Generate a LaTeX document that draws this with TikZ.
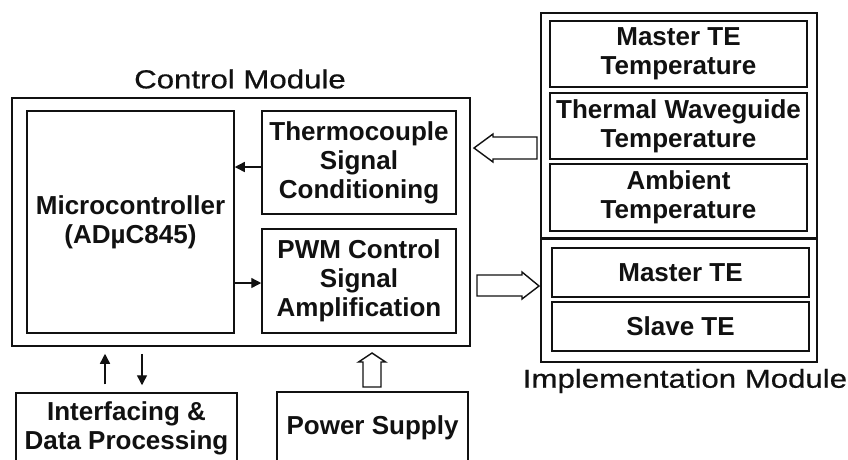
\documentclass[tikz,border=0pt]{standalone}
\usepackage{fontspec}
\setmainfont{Liberation Sans}
\newfontfamily\titlefont[FakeStretch=1.2,FakeBold=0.6]{Liberation Sans}
\usetikzlibrary{arrows.meta,calc}
\definecolor{ink}{HTML}{111111}
\tikzset{
  box/.style={draw=ink,line width=1.5pt,rectangle,inner sep=0pt,align=center,
    font=\fontsize{26}{29}\selectfont\bfseries,text=ink},
  frame/.style={draw=ink,line width=1.5pt,rectangle,inner sep=0pt},
  title/.style={font=\titlefont\fontsize{26}{30}\selectfont,text=ink,inner sep=0pt},
  sig/.style={draw=ink,line width=1.4pt,-{Triangle[length=10pt,width=10pt]}},
  hollow/.style={draw=ink,line width=1.4pt,fill=white,line join=miter},
}
\begin{document}
\begin{tikzpicture}[x=1pt,y=-1pt]
\clip (0,0) rectangle (848,459);
\fill[white] (0,0) rectangle (848,459);
% control module
\node[frame,minimum width=458pt,minimum height=248pt] (ctrl) at (241,222) {};
\node[title] (ctrlT) at (240,79) {Control Module};
\node[box,minimum width=207pt,minimum height=222pt] (mcu) at (130.5,222) {Microcontroller\\(AD\textmu C845)};
\node[box,minimum width=194pt,minimum height=103pt] (tc) at (359,162.5) {Thermocouple\\Signal\\Conditioning};
\node[box,minimum width=194pt,minimum height=104pt] (pwm) at (359,281) {PWM Control\\Signal\\Amplification};
% implementation module
\node[frame,minimum width=276pt,minimum height=225pt] (implU) at (679,125.5) {};
\node[frame,minimum width=276pt,minimum height=124pt] (implL) at (679,300) {};
\draw[ink,line width=2.6pt] (implU.south west) -- (implU.south east);
\node[title] (implT) at (685,381) {Implementation Module};
\node[box,minimum width=257pt,minimum height=66pt] (mtt) at (678.5,54) {Master TE\\Temperature};
\node[box,minimum width=257pt,minimum height=66pt] (twt) at (678.5,126) {Thermal Waveguide\\Temperature};
\node[box,minimum width=257pt,minimum height=67pt] (amb) at (678.5,197.5) {Ambient\\Temperature};
\node[box,minimum width=257pt,minimum height=49pt] (mte) at (680.5,272.5) {Master TE};
\node[box,minimum width=257pt,minimum height=49pt] (ste) at (680.5,326.5) {Slave TE};
% bottom
\node[box,minimum width=221pt,minimum height=70pt] (intf) at (126.5,428) {Interfacing \&\\Data Processing};
\node[box,minimum width=191pt,minimum height=71pt] (psu) at (372.5,427.5) {Power Supply};
% signal arrows
\draw[sig] (tc.west |- 0,167) -- (mcu.east |- 0,167);
\draw[sig] (mcu.east |- 0,283) -- (pwm.west |- 0,283);
\draw[sig] ($(intf.north)+(-21.5,-8)$) -- ($(ctrl.south -| 105,0)+(0,7)$);
\draw[sig] ($(ctrl.south -| 142,0)+(0,7)$) -- ($(intf.north)+(15.5,-7)$);
% hollow arrows
\coordinate (la) at (474,148);
\draw[hollow] (la) -- ++(19,-14) -- ++(0,3) -- ++(44,0) -- ++(0,22) -- ++(-44,0) -- ++(0,3) -- cycle;
\coordinate (ra) at (539,286);
\draw[hollow] (ra) -- ++(-17,-14) -- ++(0,3) -- ++(-45,0) -- ++(0,21) -- ++(45,0) -- ++(0,3) -- cycle;
\coordinate (ua) at (372,353);
\draw[hollow] (ua) -- ++(13.5,9) -- ++(-4.5,0) -- ++(0,25) -- ++(-18,0) -- ++(0,-25) -- ++(-4.5,0) -- cycle;
\end{tikzpicture}
\end{document}
